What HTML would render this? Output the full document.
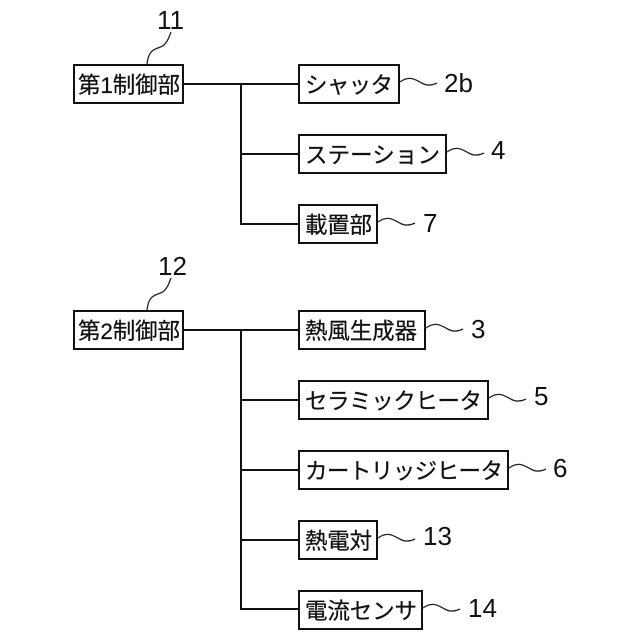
<!DOCTYPE html>
<html><head><meta charset="utf-8"><style>
html,body{margin:0;padding:0;background:#fff}
svg{display:block}
.j{font-family:"Liberation Sans","Noto Sans CJK JP",sans-serif;font-size:22.5px;fill:#111;stroke:#111;stroke-width:.25}
.n{font-family:"Liberation Sans",sans-serif;font-size:26px;fill:#111}
rect{fill:#fff;stroke:#111;stroke-width:2}
.l{fill:none;stroke:#111;stroke-width:2}
.c{fill:none;stroke:#222;stroke-width:1.3}
</style></head><body>
<svg width="640" height="640" viewBox="0 0 640 640" xmlns="http://www.w3.org/2000/svg">
<path class="l" d="M183 84H299M241 84V224H299M241 154H299"/>
<path class="l" d="M183 330H299M241 330V609H299M241 400H299M241 470H299M241 540H299"/>
<rect x="74" y="65" width="109" height="38"/>
<rect x="299" y="65" width="100" height="38"/>
<rect x="299" y="135" width="147" height="38"/>
<rect x="299" y="205" width="78" height="38"/>
<rect x="74" y="311" width="109" height="38"/>
<rect x="299" y="311" width="126" height="38"/>
<rect x="299" y="381" width="189" height="38"/>
<rect x="299" y="451" width="209" height="38"/>
<rect x="299" y="521" width="78" height="38"/>
<rect x="299" y="591" width="123" height="38"/>
<path class="c" d="M147 64C149 46 158 50 164 45C168 41 169 37 171 32"/>
<path class="c" d="M147 310C149 292 158 296 164 291C168 287 169 283 171 278"/>
<path class="c" d="M400 82C414 72 420 86 429 85C433 85 435 84 437 83"/>
<path class="c" d="M447 152C461 142 467 156 476 155C480 155 482 154 484 153"/>
<path class="c" d="M378 222C392 212 398 226 407 225C411 225 413 224 415 223"/>
<path class="c" d="M426 328C440 318 446 332 455 331C459 331 461 330 463 329"/>
<path class="c" d="M489 398C503 388 509 402 518 401C522 401 524 400 526 399"/>
<path class="c" d="M509 468C523 458 529 472 538 471C542 471 544 470 546 469"/>
<path class="c" d="M378 538C392 528 398 542 407 541C411 541 413 540 415 539"/>
<path class="c" d="M423 608C437 598 443 612 452 611C456 611 458 610 460 609"/>
<text class="j" x="78" y="93" textLength="102" lengthAdjust="spacing">第1制御部</text>
<text class="j" x="305" y="93" textLength="88" lengthAdjust="spacing">シャッタ</text>
<text class="j" x="305" y="163" textLength="135" lengthAdjust="spacing">ステーション</text>
<text class="j" x="305" y="233" textLength="67" lengthAdjust="spacing">載置部</text>
<text class="j" x="78" y="339" textLength="102" lengthAdjust="spacing">第2制御部</text>
<text class="j" x="305" y="339" textLength="112" lengthAdjust="spacing">熱風生成器</text>
<text class="j" x="305" y="409" textLength="177" lengthAdjust="spacing">セラミックヒータ</text>
<text class="j" x="305" y="479" textLength="198" lengthAdjust="spacing">カートリッジヒータ</text>
<text class="j" x="305" y="549" textLength="67" lengthAdjust="spacing">熱電対</text>
<text class="j" x="305" y="619" textLength="112" lengthAdjust="spacing">電流センサ</text>
<text class="n" x="157" y="29">11</text>
<text class="n" x="158" y="275">12</text>
<text class="n" x="444" y="92">2b</text>
<text class="n" x="491" y="159">4</text>
<text class="n" x="423" y="232">7</text>
<text class="n" x="471" y="338">3</text>
<text class="n" x="534" y="405">5</text>
<text class="n" x="553" y="477">6</text>
<text class="n" x="423" y="545">13</text>
<text class="n" x="468" y="617">14</text>
</svg>
</body></html>
